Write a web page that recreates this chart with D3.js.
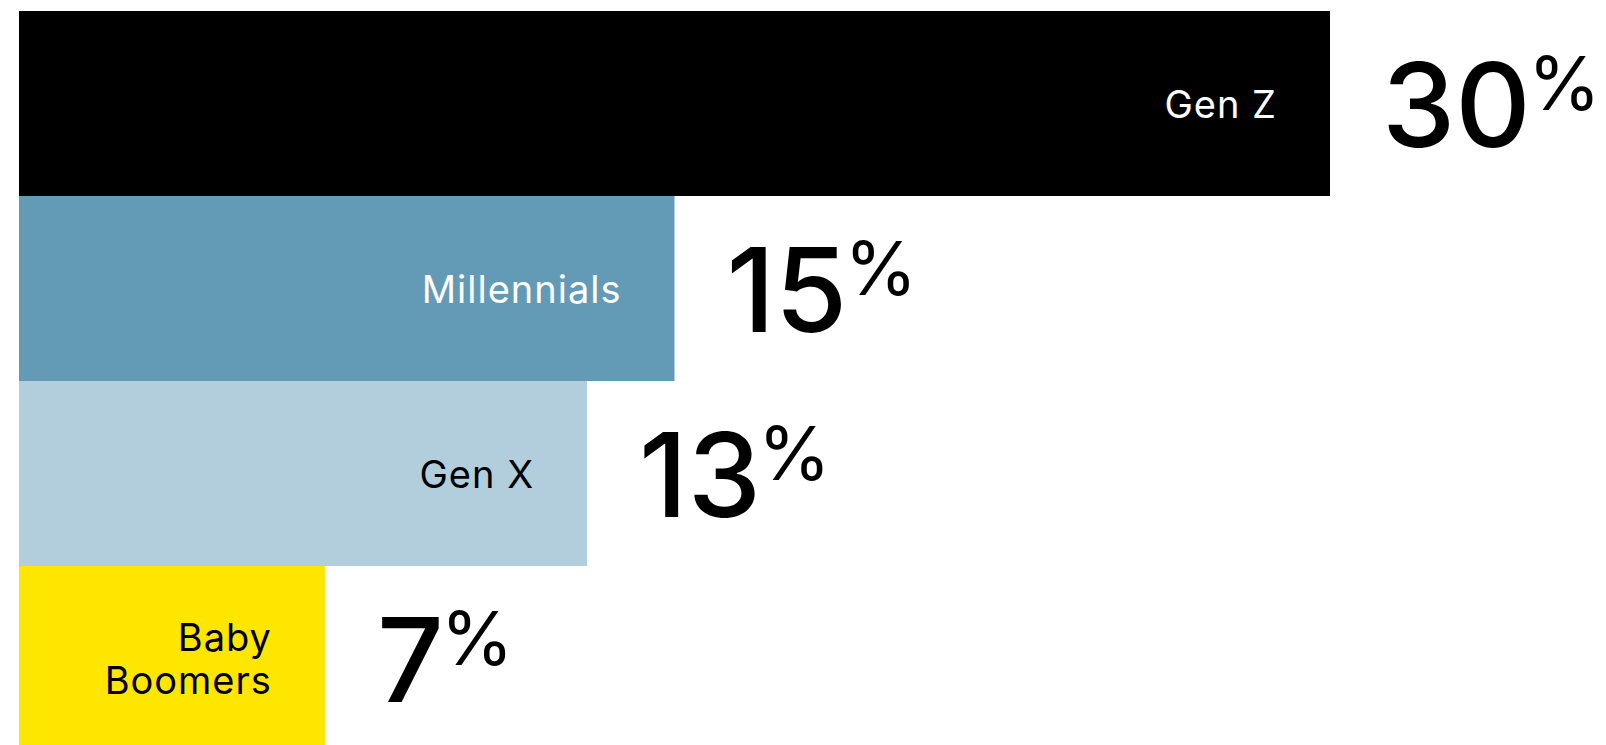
<!DOCTYPE html>
<html>
<head>
<meta charset="utf-8">
<script src="https://cdn.jsdelivr.net/npm/d3@7"></script>
<style>
  html, body { margin: 0; padding: 0; background: #ffffff; }
  svg { display: block; }
</style>
</head>
<body>
<svg id="chart" width="1606" height="745"></svg>
<script>
// Share by generation
const generations = ["Gen Z", "Millennials", "Gen X", "Baby Boomers"];
const shares = [30, 15, 13, 7];
const barColors = ["#000000", "#639bb7", "#b2cedc", "#ffe600"];
const labelColors = ["#ffffff", "#ffffff", "#000000", "#000000"];

const width = 1606, height = 745;
const svg = d3.select("#chart");

const x = d3.scaleLinear().domain([0, 30]).range([19, 1330]);
const y = d3.scaleBand().domain(generations).range([11, 751]).padding(0);

const rows = generations.map((g, i) => ({
  name: g, value: shares[i], fill: barColors[i], ink: labelColors[i]
}));

// Bars
svg.append("g").selectAll("rect")
  .data(rows)
  .join("rect")
  .attr("x", x(0))
  .attr("y", d => y(d.name))
  .attr("width", d => x(d.value) - x(0))
  .attr("height", y.bandwidth())
  .attr("fill", d => d.fill);

// Category labels inside the bars, right aligned
const labelSize = 38;
const cats = svg.append("g")
  .attr("font-family", "Inter, 'Noto Sans', sans-serif")
  .attr("font-size", labelSize)
  .attr("letter-spacing", 1)
  .attr("text-anchor", "end");

rows.forEach(d => {
  const cy = y(d.name) + y.bandwidth() / 2;
  const words = d.name === "Baby Boomers" ? ["Baby", "Boomers"] : [d.name];
  const lineGap = 42.5;
  const t = cats.append("text")
    .attr("fill", d.ink)
    .attr("x", x(d.value) - 53);
  words.forEach((w, k) => {
    const base = cy + 14 + (k - (words.length - 1) / 2) * lineGap;
    t.append("tspan")
      .attr("x", x(d.value) - 53)
      .attr("y", base)
      .text(w);
  });
});

// Value labels with raised percent sign
const vals = svg.append("g")
  .attr("font-family", "Inter, 'Noto Sans', sans-serif")
  .attr("fill", "#000000");

rows.forEach(d => {
  const cy = y(d.name) + y.bandwidth() / 2;
  const t = vals.append("text")
    .attr("x", x(d.value) + 52)
    .attr("y", cy + 43)
    .attr("font-size", 117)
    .attr("font-weight", 500);
  t.append("tspan").text(d.value);
  t.append("tspan")
    .attr("dx", -3)
    .attr("dy", -37)
    .attr("font-size", 74)
    .attr("font-weight", 400)
    .text("%");
});
</script>
</body>
</html>
